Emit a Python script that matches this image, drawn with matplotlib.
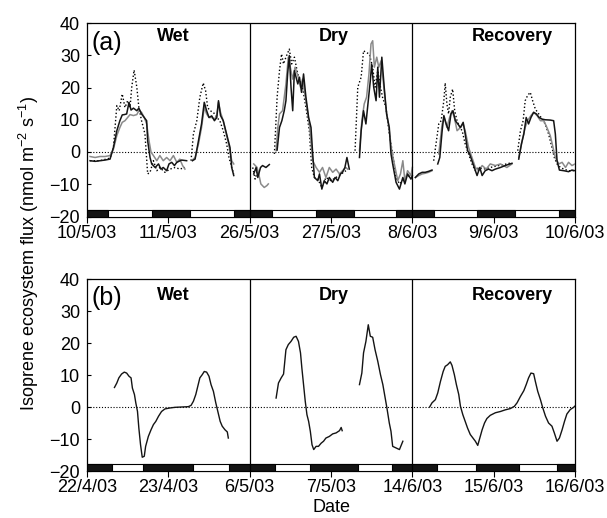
import numpy as np
import matplotlib
matplotlib.use("Agg")
import matplotlib.pyplot as plt
from matplotlib.patches import Rectangle

plt.rcParams["font.family"] = ["Liberation Sans", "DejaVu Sans"]
plt.rcParams["mathtext.fontset"] = "custom"
plt.rcParams["mathtext.rm"] = "Liberation Sans"
plt.rcParams["mathtext.it"] = "Liberation Sans:italic"

nan = np.nan

# --- Data (hours from start of each 48 h period; nan = gap) ------------------
PERIODS = ["Wet", "Dry", "Recovery"]
A_TICKS = ["10/5/03", "11/5/03", "26/5/03", "27/5/03", "8/6/03", "9/6/03", "10/6/03"]
B_TICKS = ["22/4/03", "23/4/03", "6/5/03", "7/5/03", "14/6/03", "15/6/03", "16/6/03"]

# night periods (h from panel start) for the day/night strip
A_NIGHT = [(0, 6.2), (19.3, 30.3), (43.3, 54.5), (67.5, 78.7), (91.3, 102.3), (115.2, 126.3), (139.4, 144)]
B_NIGHT = [(0, 7.4), (16.4, 31.3), (41.8, 55.4), (65.8, 79.9), (90.0, 103.2), (114.7, 127.4), (138.7, 144)]

# panel (a): measured (black), second measurement (grey), model (dotted)
A_WET_BLACK_H = [0.9, 2.4, 3.8, 5.3, 6.8, 7.8, 8.8, 9.7, 10.4, 11.0, 11.7, 12.4, 13.0, 13.7, 14.7, 15.3, 16.1, 16.9, 17.6, 17.9,
                 18.6, 19.1, 20.1, 21.1, 21.8, 22.5, 23.5, 24.2, 25.0, 25.8, 26.5, 27.9, 29.4, nan,
                 31.1, 31.9, 32.9, 33.8, 34.6, 35.3, 36.0, 36.8, 37.6, 38.3, 38.8, 39.4, 40.2, 41.2, 42.2, 42.7, 43.3]
A_WET_BLACK_V = [-2.7, -2.9, -2.7, -2.5, -2.2, 1.4, 6.6, 9.7, 11.5, 11.6, 11.8, 15.4, 13.0, 13.6, 12.8, 13.6, 11.8, 10.7, 9.7, 3.5,
                 -1.7, -3.7, -4.8, -3.7, -5.3, -4.8, -5.8, -3.7, -3.2, -4.2, -3.2, -2.5, -2.7, nan,
                 -2.7, -2.2, 3.5, 8.7, 15.4, 12.8, 10.7, 11.2, 9.7, 10.7, 15.9, 11.3, 9.7, 5.6, 1.4, -4.8, -7.3]
A_WET_GRAY_H = [0.9, 2.4, 3.8, 5.3, 6.8, 7.8, 8.8, 9.7, 10.4, 11.2, 12.0, 12.7, 13.7, 14.7, 15.3, 16.1, 16.9, 17.6, 18.3, 18.9,
                19.6, 20.6, 21.5, 22.5, 23.5, 24.5, 25.5, 26.5, 27.4, 28.2, 28.9, nan,
                31.1, 31.9, 32.9, 33.8, 34.6, 35.3, 36.0, 36.8, 37.6, 38.3, 38.8, 39.4, 40.2, 41.2, 42.2, 42.7, 43.3]
A_WET_GRAY_V = [-1.4, -1.7, -1.4, -1.4, -1.1, 0.9, 5.1, 7.6, 9.2, 9.7, 10.7, 11.6, 11.3, 11.6, 12.8, 12.3, 10.7, 8.7, 3.5, -0.1,
                -1.1, -2.7, -1.1, -2.7, -1.7, -2.7, -1.1, -3.2, -2.2, -4.2, -5.3, nan,
                -2.5, -1.7, 2.5, 7.6, 13.8, 11.8, 10.7, 10.7, 10.2, 11.3, 15.4, 12.3, 9.7, 5.1, 0.4, -2.7, -3.7]
A_WET_DOT_H = [0.9, 3.8, 6.8, 7.8, 8.8, 9.5, 10.4, 11.2, 12.0, 12.7, 13.2, 13.9, 14.7, 15.3, 16.1, 17.1, 17.9, 18.6, 19.6, 20.6,
               21.5, 23.0, 24.5, 26.0, 27.4, 28.9, nan,
               30.7, 31.4, 32.4, 33.3, 34.3, 35.0, 35.6, 36.3, 37.3, 38.3, 39.2, 40.2, 41.2, 41.9, 42.7, 43.3]
A_WET_DOT_V = [-2.7, -2.7, -1.9, 1.4, 14.4, 12.8, 18.0, 13.8, 15.9, 13.8, 20.1, 25.4, 20.1, 13.8, 9.7, 5.6, -6.8, -6.3, -2.7, -5.8,
               -4.8, -6.3, -5.3, -4.8, -5.3, -4.8, nan,
               -2.7, 5.6, 9.7, 17.0, 21.4, 19.0, 13.8, 12.8, 12.3, 10.7, 9.7, 6.6, 2.5, -1.7, -4.8, -6.8]

A_DRY_BLACK_H = [1.2, 1.9, 2.4, 3.2, 3.8, 4.8, 5.8, nan,
                 8.1, 8.8, 9.5, 10.2, 10.7, 11.2, 11.7, 12.2, 12.7, 13.2, 13.7, 14.2, 14.7, 15.3, 15.9, 16.6, 17.4, 18.1,
                 18.6, 19.1, 20.1, 20.6, 21.3, 22.0, 22.8, 23.5, 24.5, 25.2, 26.0, 26.8, 27.4, 28.1, 28.7, 29.4, nan,
                 32.4, 32.9, 33.6, 34.3, 35.0, 35.6, 36.0, 36.6, 37.3, 37.8, 38.3, 39.0, 39.7, 40.4, 41.2, 41.7, 42.2,
                 43.2, 44.2, 45.2, 45.8, 46.6, 47.6, 48.0]
A_DRY_BLACK_V = [-6.8, -4.8, -7.9, -4.8, -4.2, -4.8, -3.9, nan,
                 0.6, 7.6, 9.7, 12.8, 15.9, 24.2, 29.9, 20.1, 12.8, 25.2, 23.2, 21.1, 23.2, 18.5, 24.2, 17.0, 10.7, 7.6,
                 -0.6, -7.9, -8.9, -6.8, -11.5, -8.9, -9.9, -7.9, -9.4, -7.9, -8.9, -6.8, -6.3, -4.8, -1.7, -5.3, nan,
                 -1.7, 6.6, 12.8, 8.7, 15.9, 22.1, 27.3, 20.1, 15.9, 26.3, 17.0, 29.4, 20.1, 11.8, 7.6, -0.6, -3.7,
                 -9.4, -11.5, -7.9, -9.9, -6.8, -8.4, -7.3]
A_DRY_GRAY_H = [1.2, 2.2, 2.9, 3.3, 4.3, 5.1, 5.5, nan,
                7.8, 8.3, 8.8, 9.7, 10.7, 11.4, 12.0, 12.7, 13.4, 14.2, 15.0, 15.6, 16.6, 17.6, 18.6, 19.6, 20.6, 21.5,
                22.5, 23.5, 24.5, 25.5, 26.5, 27.4, 28.4, 28.9, nan,
                32.4, 33.1, 33.8, 34.5, 35.2, 35.8, 36.3, 36.8, 37.5, 38.1, 38.8, 39.5, 40.2, 41.2, 41.9, 42.7, 43.7,
                44.5, 45.2, 45.8, 46.6, 47.6, 48.0]
A_DRY_GRAY_V = [-3.7, -4.8, -7.9, -9.9, -11.0, -10.4, -9.9, nan,
                0.4, 7.6, 11.8, 12.8, 21.1, 29.4, 26.3, 22.6, 26.3, 23.7, 20.1, 22.6, 15.9, 8.7, -2.7, -4.8, -6.3, -4.8,
                -7.9, -4.8, -6.3, -5.3, -6.8, -5.8, -4.8, -5.3, nan,
                0.4, 9.7, 14.9, 17.0, 24.2, 33.5, 34.5, 26.3, 29.4, 26.3, 28.3, 21.1, 13.8, 6.6, 0.4, -3.7, -8.9,
                -6.8, -2.7, -8.9, -5.8, -7.3, -4.8]
A_DRY_DOT_H = [0.9, 1.6, 2.2, nan,
               7.3, 8.1, 8.8, 9.4, 10.0, 10.7, 11.7, 12.4, 13.2, 14.0, 14.7, 15.6, 16.6, 17.6, 18.3, 19.1, 20.1, 21.3,
               22.5, 24.0, 25.5, 27.0, 28.4, nan,
               31.1, 31.9, 32.9, 33.6, 34.3, 35.3, 36.3, 37.0, 37.8, 38.6, 39.2, 40.2, 41.2, 42.2, 43.2, 44.2, 45.2,
               46.1, 47.6]
A_DRY_DOT_V = [-4.8, -8.4, -6.3, nan,
               -0.6, 17.0, 25.2, 30.4, 27.3, 29.4, 31.9, 27.3, 29.4, 25.2, 22.1, 20.1, 13.8, 6.6, -4.8, -7.9, -8.4, -11.0,
               -7.9, -8.9, -7.9, -6.8, -5.8, nan,
               0.4, 20.1, 23.2, 31.4, 30.9, 30.4, 26.3, 20.1, 25.2, 20.1, 17.0, 13.8, 5.6, -0.6, -7.9, -9.9, -8.9,
               -7.9, -7.3]

A_REC_BLACK_H = [0.9, 1.9, 2.9, 3.8, 4.8, 5.8, nan,
                 7.5, 8.1, 8.8, 9.3, 10.0, 10.7, 11.4, 12.0, 12.7, 13.4, 14.2, 15.0, 15.6, 16.3, 16.9, 17.6, 18.3, 19.1,
                 19.9, 20.6, 21.5, 22.5, 23.5, 24.5, 26.0, 27.4, 29.4, nan,
                 31.4, 32.2, 32.9, 33.6, 34.3, 35.0, 35.8, 36.6, 37.4, 38.3, 39.2, 40.7, 41.7, 42.2, 42.7, 43.4, 44.7,
                 46.1, 47.1, 48.0]
A_REC_BLACK_V = [-7.9, -6.8, -6.3, -6.3, -6.0, -5.6, nan,
                 -3.7, -1.7, 6.6, 11.3, 8.7, 6.6, 11.8, 12.8, 9.7, 8.7, 7.6, 9.2, 5.6, 0.4, -0.6, -2.7, -4.8, -7.3,
                 -4.8, -7.3, -5.8, -5.3, -5.8, -5.3, -4.8, -4.2, -3.5, nan,
                 -2.2, 2.5, 5.6, 10.7, 8.7, 10.7, 12.3, 11.8, 10.7, 10.2, 10.0, 9.9, 9.7, 5.6, -2.7, -5.6, -5.8,
                 -6.1, -5.6, -5.8]
A_REC_GRAY_H = [0.9, 1.9, 2.9, 3.8, 4.8, 5.8, nan,
                7.8, 8.8, 9.4, 10.2, 11.0, 11.7, 12.4, 13.2, 14.2, 15.0, 15.6, 16.6, 17.6, 18.6, 19.6, 20.6, 21.8, 23.0,
                24.5, 26.0, 27.9, 29.4, nan,
                31.4, 32.4, 33.3, 34.0, 35.0, 35.8, 36.8, 37.8, 38.8, 39.7, 40.7, 41.5, 42.2, 43.2, 44.2, 45.2, 46.1,
                47.1, 48.0]
A_REC_GRAY_V = [-7.9, -7.3, -6.8, -6.6, -6.3, -5.8, nan,
                -0.6, 8.7, 10.7, 7.6, 10.7, 12.8, 10.7, 6.6, 7.6, 8.7, 6.6, 1.4, -1.7, -4.8, -5.8, -4.2, -5.3, -3.7,
                -4.2, -3.7, -4.8, -3.7, nan,
                -1.7, 3.5, 7.6, 9.7, 11.3, 12.3, 11.3, 9.7, 9.7, 7.6, 5.1, 1.4, -1.7, -3.7, -3.2, -4.8, -3.2,
                -4.2, -3.7]
A_REC_DOT_H = [6.3, 7.1, 7.8, 8.5, 9.3, 9.7, 10.2, 10.7, 11.2, 11.9, 12.5, 13.2, 14.0, 14.7, 15.6, 16.6, 17.6, 18.6, 19.6,
               21.0, 23.0, 25.0, 27.4, 29.4, nan,
               31.1, 31.9, 32.7, 33.3, 34.0, 34.8, 35.5, 36.3, 37.3, 38.3, 39.2, 40.2, 41.2, 41.9, 42.7, 43.7, 44.7,
               46.1, 48.0]
A_REC_DOT_V = [-2.7, 3.5, 8.7, 9.7, 15.9, 21.4, 14.9, 11.8, 17.0, 19.5, 12.8, 9.7, 7.6, 6.6, 2.5, -0.6, -3.7, -5.8, -4.8,
               -5.3, -4.8, -4.3, -3.8, -3.3, nan,
               0.4, 6.6, 9.7, 15.9, 17.5, 18.5, 15.9, 13.3, 11.8, 10.2, 8.7, 5.6, 1.4, -1.7, -3.7, -4.8, -5.3,
               -5.8, -5.8]

# panel (b): modelled flux
B_WET_H = [8.1, 8.8, 9.4, 10.2, 11.0, 11.7, 12.4, 13.0, 13.4, 14.0, 14.4, 14.9, 15.3, 15.8, 16.3, 16.9, 17.3, 18.1, 18.9,
           19.6, 20.3, 21.1, 22.0, 23.0, 24.5, 26.0, 27.9, 29.9, 30.7, 31.4, 32.1, 32.7, 33.3, 34.0, 34.6, 35.3, 36.0,
           36.6, 37.3, 38.0, 38.6, 39.3, 39.9, 40.7, 41.4, 41.7]
B_WET_V = [6.1, 7.5, 9.1, 10.3, 10.9, 10.6, 9.6, 9.1, 5.9, 3.9, 1.3, -1.4, -6.6, -11.8, -15.7, -15.4, -12.3, -9.2, -7.1,
           -5.5, -4.5, -2.9, -1.4, -0.6, -0.3, -0.1, 0.0, 0.1, 0.5, 1.8, 3.9, 6.5, 9.1, 10.1, 11.1, 10.9, 9.6,
           7.0, 4.9, 1.3, -1.4, -4.5, -6.0, -7.1, -7.8, -9.7]
B_DRY_H = [7.8, 8.5, 9.3, 10.0, 10.7, 11.4, 12.2, 13.0, 13.7, 14.4, 15.0, 15.4, 15.9, 16.4, 16.9, 17.4, 17.9, 18.4, 18.9,
           19.6, 20.3, 21.1, 21.8, 22.5, 23.5, 24.5, 25.5, 26.5, 27.0, 27.3, nan,
           32.4, 33.1, 33.6, 34.3, 35.0, 35.6, 36.3, 37.0, 37.8, 38.6, 39.3, 39.9, 40.5, 41.2, 41.7, 42.2, 43.2,
           44.2, 45.2]
B_DRY_V = [2.8, 7.5, 9.1, 10.3, 17.9, 19.5, 20.5, 21.8, 22.1, 20.5, 16.9, 12.2, 7.0, 1.8, -2.4, -4.5, -7.6, -11.8, -13.3,
           -12.3, -12.3, -11.3, -10.7, -9.7, -9.2, -8.4, -8.1, -7.4, -6.4, -7.4, nan,
           7.0, 10.6, 16.9, 20.5, 25.7, 22.1, 21.8, 17.9, 14.3, 10.1, 7.0, 3.3, -0.3, -5.0, -7.6, -12.3, -12.8,
           -13.3, -10.7]
B_REC_H = [5.1, 5.8, 6.8, 7.5, 8.3, 9.1, 9.7, 10.4, 11.2, 11.7, 12.4, 13.0, 13.7, 14.2, 14.9, 15.6, 16.3, 17.1, 17.9,
           18.6, 19.3, 19.9, 20.6, 21.3, 22.0, 23.0, 24.5, 26.0, 27.4, 28.9, 30.1, 30.9, 31.9, 32.9, 33.6, 34.3, 35.0,
           35.8, 36.3, 37.0, 37.8, 38.5, 39.3, 40.2, 41.2, 41.9, 42.7, 43.4, 44.2, 44.9, 45.6, 46.6, 47.6, 48.0]
B_REC_V = [0.0, 1.3, 2.3, 4.4, 8.0, 11.1, 12.7, 13.2, 14.1, 13.0, 10.1, 7.0, 3.9, 0.2, -2.4, -4.5, -6.6, -8.6, -9.7,
           -10.7, -12.0, -9.7, -7.1, -5.0, -3.6, -2.6, -1.8, -1.4, -0.9, -0.5, 0.2, 1.3, 3.3, 5.1, 7.0, 9.1, 10.6,
           10.4, 8.0, 4.9, 2.3, -0.3, -2.9, -5.0, -6.0, -8.1, -10.7, -9.7, -7.1, -4.5, -2.2, -0.8, -0.1, 0.3]

BLACK = "#141414"
GRAY = "#8a8a8a"
DOTS = (0, (1, 1.6))
FS = 13


def joined(parts):
    """Concatenate three 48 h periods onto one 0-144 h axis."""
    xs, ys = [], []
    for i, (h, v) in enumerate(parts):
        xs += [x + 48 * i for x in h] + [nan]
        ys += list(v) + [nan]
    return np.array(xs), np.array(ys)


def setup(ax, night, ticks, tag, tag_y, title_y):
    ax.set_xlim(0, 144)
    ax.set_ylim(-20, 40)
    ax.axhline(0, color="k", lw=0.8, ls=DOTS, zorder=1)
    # day / night strip along the bottom
    ax.add_patch(Rectangle((0, -20), 144, 2.1, facecolor="white", edgecolor="k", lw=0.8, zorder=4))
    ax.broken_barh([(a, b - a) for a, b in night], (-20, 2.1), facecolors=BLACK, edgecolors="k", lw=0.8, zorder=5)
    for x in (48, 96):
        ax.axvline(x, color="k", lw=0.9, zorder=6)
    ax.set_xticks(np.arange(0, 145, 24))
    ax.set_xticklabels(ticks)
    ax.set_yticks(np.arange(-20, 41, 10))
    ax.tick_params(axis="y", direction="in", length=3, width=0.8, labelsize=FS, pad=5)
    ax.tick_params(axis="x", direction="out", length=4, width=0.8, labelsize=FS, pad=2)
    for s in ax.spines.values():
        s.set_linewidth(0.9)
    ax.text(1.2, tag_y, tag, fontsize=18, va="center", ha="left")
    for xc, name in zip((25.4, 72.7, 125.5), PERIODS):
        ax.text(xc, title_y, name, fontsize=FS, fontweight="bold", ha="center", va="center")


fig = plt.figure(figsize=(6.07, 5.18), dpi=100)
ax_a = fig.add_axes([87 / 607, 1 - 216.5 / 518, 488 / 607, 193.5 / 518])
ax_b = fig.add_axes([87 / 607, 1 - 471 / 518, 488 / 607, 192 / 518])

setup(ax_a, A_NIGHT, A_TICKS, "(a)", 33.8, 35.7)
setup(ax_b, B_NIGHT, B_TICKS, "(b)", 34.0, 35.0)

x, y = joined([(A_WET_DOT_H, A_WET_DOT_V), (A_DRY_DOT_H, A_DRY_DOT_V), (A_REC_DOT_H, A_REC_DOT_V)])
ax_a.plot(x, y, color="k", lw=1.0, ls=DOTS, zorder=2)
x, y = joined([(A_WET_GRAY_H, A_WET_GRAY_V), (A_DRY_GRAY_H, A_DRY_GRAY_V), (A_REC_GRAY_H, A_REC_GRAY_V)])
ax_a.plot(x, y, color=GRAY, lw=1.1, zorder=3)
x, y = joined([(A_WET_BLACK_H, A_WET_BLACK_V), (A_DRY_BLACK_H, A_DRY_BLACK_V), (A_REC_BLACK_H, A_REC_BLACK_V)])
ax_a.plot(x, y, color=BLACK, lw=1.1, zorder=3)

x, y = joined([(B_WET_H, B_WET_V), (B_DRY_H, B_DRY_V), (B_REC_H, B_REC_V)])
ax_b.plot(x, y, color=BLACK, lw=1.0, zorder=3)

fig.text(29 / 607, 1 - 253 / 518, "Isoprene ecosystem flux (nmol m$^{-2}$ s$^{-1}$)",
         rotation=90, ha="center", va="center", fontsize=FS)
fig.text(331 / 607, 1 - 507 / 518, "Date", ha="center", va="center", fontsize=FS)

fig.savefig("out.png", dpi=100)
